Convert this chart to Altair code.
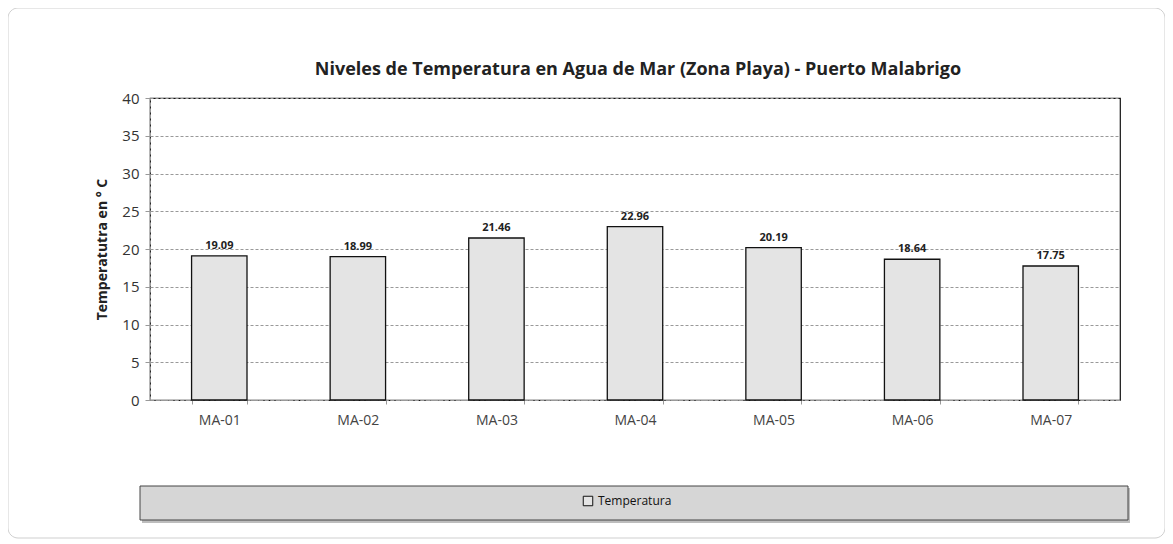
import altair as alt
import pandas as pd

stations = ["MA-01", "MA-02", "MA-03", "MA-04", "MA-05", "MA-06", "MA-07"]
temps = [19.09, 18.99, 21.46, 22.96, 20.19, 18.64, 17.75]
y_ticks = [0, 5, 10, 15, 20, 25, 30, 35, 40]
series_name = "Temperatura"
title_text = "Niveles de Temperatura en Agua  de Mar (Zona Playa) - Puerto Malabrigo"

df = pd.DataFrame({"station": stations, "temp": temps, "serie": [series_name] * len(stations)})
df["label"] = df["temp"].map(lambda v: f"{v:.2f}")

W, H = 970, 302
FONT = "Open Sans"

x_enc = alt.X("station:N", sort=stations, title=None,
              scale=alt.Scale(paddingInner=0.6, paddingOuter=0.3),
              axis=alt.Axis(labelAngle=0, labelFontSize=14, labelColor="#444", labelFont=FONT,
                            labelPadding=9, tickBand="extent", tickSize=4, tickColor="#999",
                            domainColor="#999", domainDash=[4, 2], grid=False))
y_enc = alt.Y("temp:Q", title="Temperatutra  en ° C",
              scale=alt.Scale(domain=[0, 40], nice=False),
              axis=alt.Axis(values=y_ticks, labelFontSize=15, labelColor="#333", labelFont=FONT,
                            titleFont=FONT, titleFontSize=14, titleFontWeight="bold", titleColor="#222",
                            titlePadding=12, tickSize=5, tickColor="#999", domainColor="#999",
                            domainDash=[4, 2], gridColor="#999", gridDash=[3, 2], gridWidth=1,
                            labelPadding=6, labelOverlap=False))

base = alt.Chart(df)
one = base.transform_filter(alt.datum.station == "MA-01")

frame = one.mark_rect(fillOpacity=0, stroke="#cfcfcf", strokeWidth=1, cornerRadius=10).encode(
    x=alt.value(-142), x2=alt.value(1015), y=alt.value(-90), y2=alt.value(440)
)

title = one.mark_text(fontSize=18, fontWeight="bold", font=FONT, color="#222",
                      align="center", baseline="middle").encode(
    x=alt.value(488), y=alt.value(-28), text=alt.value(title_text)
)

legend_shadow = one.mark_rect(fill="#bdbdbd").encode(
    x=alt.value(-8), x2=alt.value(980), y=alt.value(390), y2=alt.value(425)
)

legend_box = one.mark_rect(fill="#d6d6d6", stroke="#444", strokeWidth=1).encode(
    x=alt.value(-10), x2=alt.value(978), y=alt.value(388), y2=alt.value(422)
)

bars = base.mark_bar(stroke="#111", strokeWidth=1.3).encode(
    x=x_enc, y=y_enc,
    color=alt.Color("serie:N", scale=alt.Scale(range=["#e4e4e4"]),
                    legend=alt.Legend(title=None, orient="none", legendX=432, legendY=397,
                                      symbolType="square", symbolSize=90, symbolStrokeColor="#111",
                                      symbolStrokeWidth=1, symbolFillColor="#f4f4f4",
                                      labelFontSize=12, labelFont=FONT, labelColor="#111",
                                      labelOffset=4))
)

labels = base.mark_text(dy=-10, fontSize=11, fontWeight="bold", font=FONT, color="#222").encode(
    x=x_enc, y=y_enc, text="label:N"
)

chart = alt.layer(frame, title, legend_shadow, legend_box, bars, labels).properties(
    width=W, height=H,
    autosize=alt.AutoSizeParams(type="none"),
    padding={"left": 142, "top": 90, "right": 45, "bottom": 142},
).configure_view(stroke="#111", strokeWidth=1.2)

chart.save("out.html", embed_options={"renderer": "svg", "actions": False})
